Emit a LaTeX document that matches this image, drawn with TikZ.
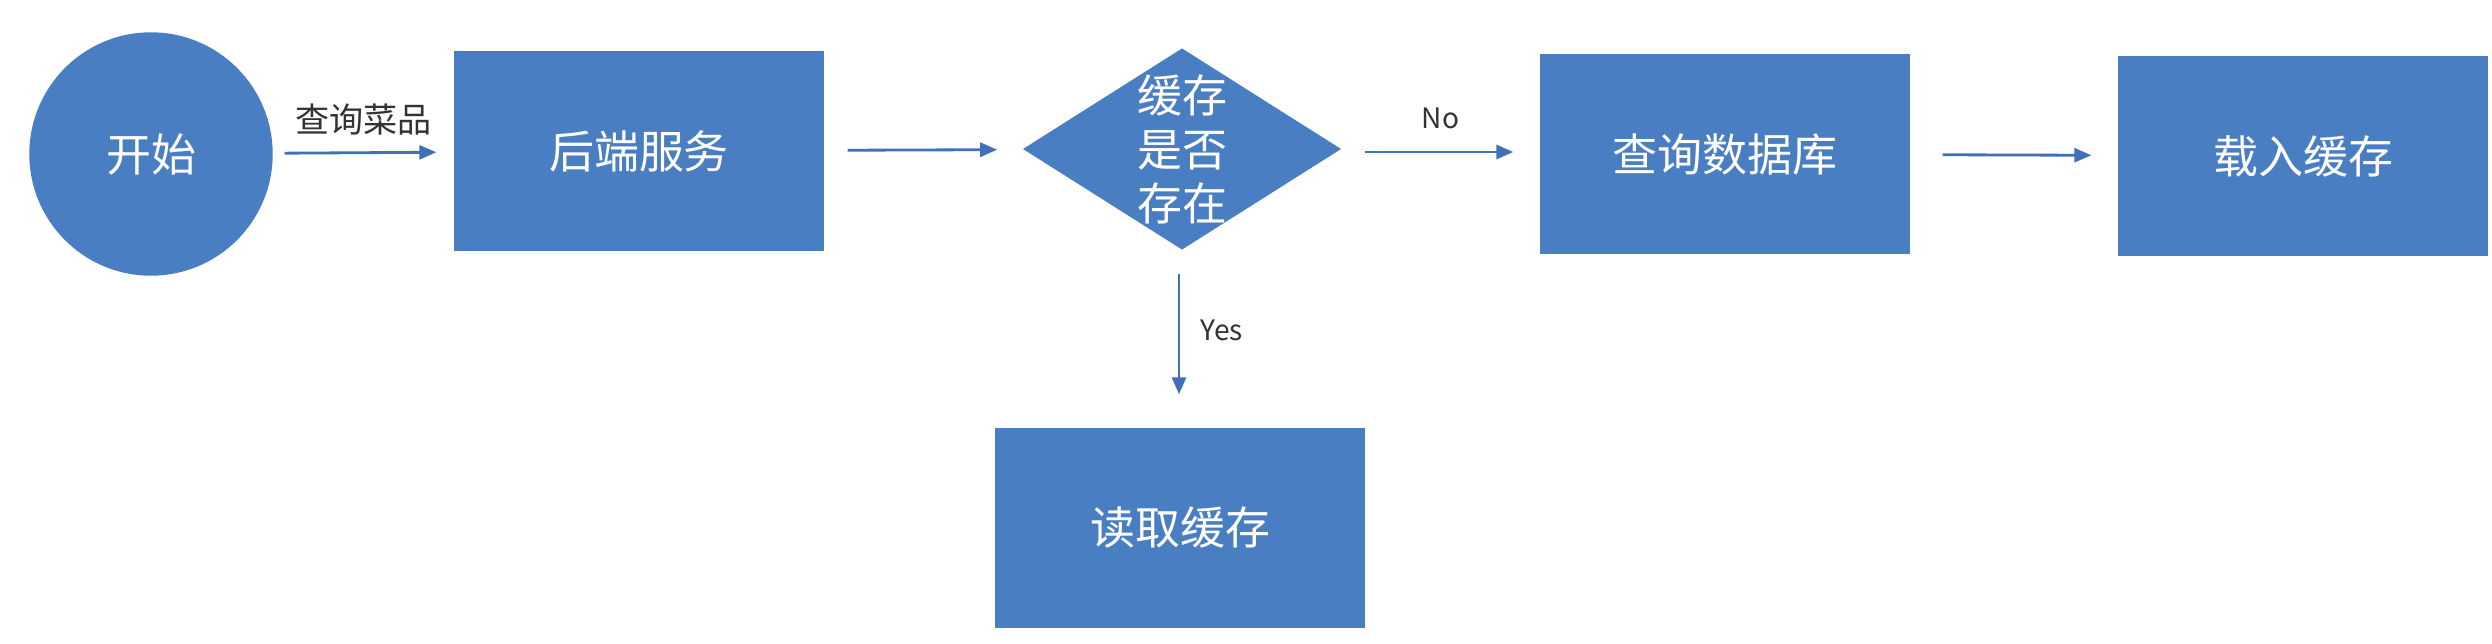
\documentclass[tikz,border=0pt]{standalone}
\usepackage{fontspec}
\setmainfont{Noto Sans CJK SC}
\usetikzlibrary{shapes.geometric, arrows.meta, positioning}
\definecolor{boxblue}{HTML}{4A7EC2}
\definecolor{lineblue}{HTML}{3F70B8}
\definecolor{lbltext}{HTML}{333333}

\begin{document}
\begin{tikzpicture}[
    startnode/.style={circle, fill=boxblue, draw=boxblue, minimum size=2.42cm, inner sep=0pt,
        text=white, font=\fontsize{12.8pt}{15.4pt}\selectfont},
    procbox/.style={rectangle, fill=boxblue, draw=boxblue, minimum width=3.68cm, minimum height=1.98cm,
        inner sep=0pt, text=white, font=\fontsize{12.8pt}{15.4pt}\selectfont},
    decision/.style={diamond, fill=boxblue, draw=boxblue, minimum width=3.16cm, minimum height=2cm,
        inner sep=0pt},
    wtext/.style={text=white, align=center, inner sep=0pt, font=\fontsize{12.8pt}{15.4pt}\selectfont},
    flow/.style={draw=lineblue, line width=0.8pt, -{Triangle[length=0.17cm, width=0.14cm]},
        shorten <=0.24cm, shorten >=0.27cm},
    lbl/.style={text=lbltext, inner sep=0pt}
]
    \useasboundingbox (0,0) rectangle (24.92,6.43);
    % nodes
    \node[startnode] (start) at (1.51,4.89) {开始};
    \node[procbox] (backend) at (6.39,4.92) {后端服务};
    \node[decision] (check) at (11.82,4.94) {};
    \node[wtext] (checktxt) at (check) {缓存\\是否\\存在};
    \node[procbox] (querydb) at (17.25,4.89) {查询数据库};
    \node[procbox] (loadcache) at (23.03,4.87) {载入缓存};
    \node[procbox] (readcache) at (11.80,1.15) {读取缓存};
    % connectors
    \draw[flow, shorten <=0.12cm, shorten >=0.18cm] (start) -- (backend)
        node[lbl, midway, above=0.16cm, font=\fontsize{9.7pt}{11pt}\selectfont] {查询菜品};
    \draw[flow] (backend) -- (check);
    \draw[flow] (check.east) ++(0,-0.03) coordinate (noout) (noout) -- (querydb.west |- noout)
        node[lbl, midway, above=0.22cm, font=\fontsize{8pt}{10pt}\selectfont] {No};
    \draw[flow, shorten >=0.34cm] (check.south) ++(-0.03,0) coordinate (yesout) (yesout) -- (readcache.north -| yesout)
        node[lbl, pos=0.45, right=0.2cm, font=\fontsize{8pt}{10pt}\selectfont] {Yes};
    \draw[flow, shorten <=0.33cm] (querydb) -- (loadcache);
\end{tikzpicture}
\end{document}
